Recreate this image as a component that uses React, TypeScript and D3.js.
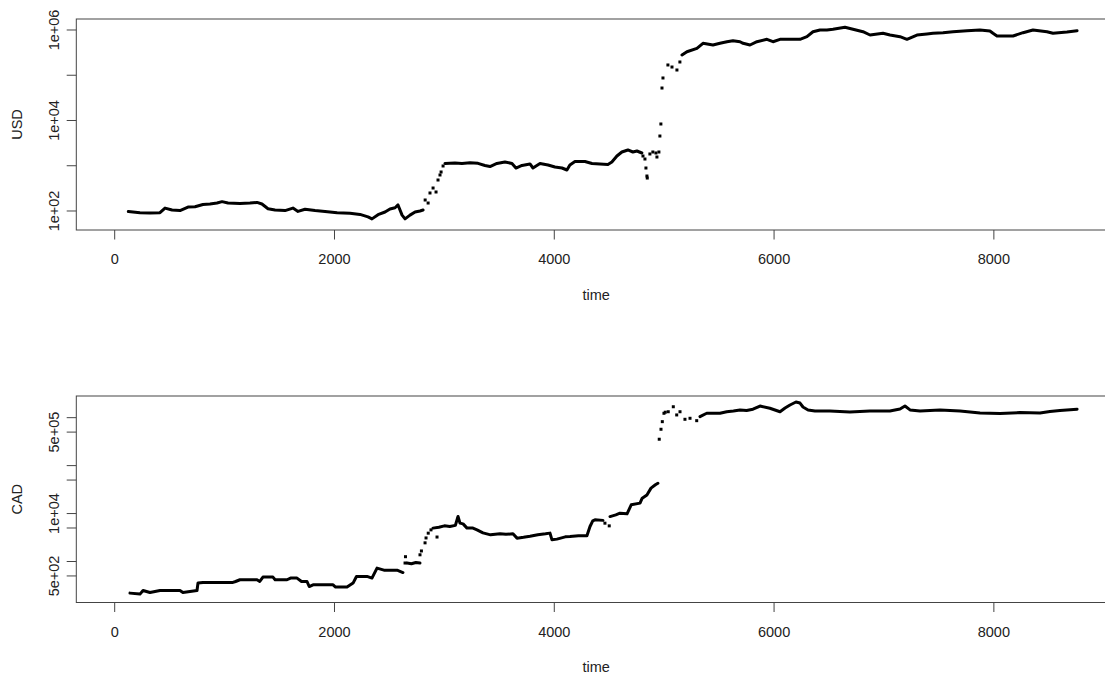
import React from "react";
import * as d3 from "d3";

type Pt = [number, number];

// Hourly exchange-rate series (time in hours, value on a log scale).
// Continuous stretches are drawn as dense point runs; the isolated hours
// around the jumps are drawn as single points.

// ---- USD ----
const usdRunA: Pt[] = [
  [124, 97], [230, 92], [321, 90], [412, 92], [458, 116], [522, 105], [594, 102],
  [667, 122], [731, 124], [803, 139], [867, 143], [931, 150], [977, 161], [1031, 150],
  [1140, 147], [1231, 150], [1295, 155], [1340, 143], [1395, 112], [1459, 105],
  [1550, 102], [1622, 116], [1668, 98], [1732, 109], [1823, 102], [1914, 98],
  [2024, 92], [2141, 89], [2232, 84], [2305, 74], [2341, 67], [2396, 83], [2460, 95],
  [2505, 111], [2551, 118], [2578, 136], [2615, 81], [2642, 67], [2687, 81],
  [2733, 95], [2778, 100], [2806, 105],
];
const usdRunB: Pt[] = [
  [3005, 1122], [3096, 1150], [3160, 1122], [3233, 1167], [3306, 1130], [3369, 1015],
  [3415, 962], [3478, 1122], [3551, 1211], [3615, 1122], [3651, 891], [3706, 1015],
  [3779, 1094], [3806, 891], [3870, 1122], [3943, 1040], [4006, 937], [4070, 891],
  [4115, 805], [4142, 1040], [4188, 1241], [4279, 1241], [4343, 1122], [4415, 1094],
  [4488, 1067], [4524, 1211], [4570, 1641], [4615, 2013], [4670, 2230], [4715, 2013],
  [4752, 2118], [4797, 1914],
];
const usdRunC: Pt[] = [
  [5162, 280000], [5207, 331000], [5298, 394000], [5353, 508000], [5444, 466000],
  [5508, 508000], [5571, 551000], [5626, 580000], [5690, 551000], [5718, 508000],
  [5781, 466000], [5844, 551000], [5935, 622000], [5990, 551000], [6054, 622000],
  [6236, 622000], [6299, 711000], [6354, 916000], [6418, 1000000], [6481, 1000000],
  [6536, 1036000], [6645, 1148000], [6718, 1036000], [6809, 916000], [6873, 775000],
  [6991, 845000], [7055, 775000], [7146, 711000], [7209, 622000], [7300, 775000],
  [7391, 816000], [7446, 845000], [7537, 872000], [7628, 916000], [7755, 966000],
  [7873, 1000000], [7964, 950000], [7992, 845000], [8028, 736000], [8174, 736000],
  [8265, 872000], [8356, 1000000], [8483, 916000], [8538, 845000], [8665, 904000],
  [8757, 966000],
];
const usdScatter: Pt[] = [
  [2825, 175], [2852, 150], [2869, 250], [2897, 322], [2924, 263], [2942, 484],
  [2960, 625], [2970, 728], [2988, 988],
  [4807, 1641], [4825, 1408], [4834, 891], [4843, 593], [4846, 535], [4870, 1820],
  [4897, 2013], [4925, 1914], [4934, 1560], [4952, 2013], [4961, 4539], [4970, 8370],
  [4980, 52200], [4989, 87000], [5034, 168600], [5071, 152000], [5116, 130600],
  [5143, 196400],
];

// ---- CAD ----
const cadRunA: Pt[] = [
  [139, 219], [230, 209], [258, 249], [321, 226], [412, 249], [594, 249], [621, 226],
  [749, 249], [758, 355], [803, 366], [1076, 366], [1100, 383], [1140, 416],
  [1295, 416], [1320, 383], [1349, 473], [1440, 473], [1460, 416], [1568, 416],
  [1600, 451], [1659, 451], [1700, 383], [1750, 383], [1770, 301], [1805, 327],
  [1987, 327], [2010, 293], [2114, 293], [2169, 355], [2200, 488], [2296, 488],
  [2341, 451], [2387, 728], [2450, 660], [2569, 660], [2623, 589],
];
const cadRunB: Pt[] = [[2660, 927], [2700, 900], [2740, 950], [2778, 927]];
const cadRunC: Pt[] = [
  [2896, 4970], [2950, 5200], [3000, 5540], [3050, 5370], [3100, 5670], [3124, 8700],
  [3142, 6310], [3170, 6090], [3206, 4970], [3260, 4970], [3297, 4570], [3351, 3960],
  [3420, 3600], [3506, 3780], [3560, 3690], [3624, 3780], [3661, 3070], [3720, 3190],
  [3779, 3350], [3850, 3600], [3920, 3780], [3961, 3910], [3979, 2830], [4024, 2930],
  [4100, 3270], [4143, 3310], [4220, 3430], [4297, 3430], [4325, 5370], [4350, 7050],
  [4370, 7400], [4443, 7210],
];
const cadRunD: Pt[] = [
  [4507, 8650], [4560, 9390], [4598, 10200], [4662, 9860], [4700, 15200],
  [4780, 16500], [4800, 20900], [4843, 24500], [4880, 33900], [4920, 39800],
  [4943, 42900],
];
const cadRunE: Pt[] = [
  [5326, 1050000], [5387, 1235000], [5450, 1235000], [5508, 1235000], [5569, 1330000],
  [5630, 1380000], [5690, 1450000], [5750, 1410000], [5808, 1500000], [5872, 1750000],
  [5962, 1570000], [6054, 1330000], [6100, 1590000], [6145, 1840000], [6199, 2120000],
  [6236, 2020000], [6263, 1670000], [6309, 1450000], [6372, 1380000], [6508, 1380000],
  [6690, 1320000], [6872, 1380000], [7054, 1380000], [7146, 1520000], [7191, 1750000],
  [7237, 1450000], [7328, 1380000], [7510, 1450000], [7692, 1380000], [7874, 1250000],
  [8056, 1220000], [8238, 1280000], [8420, 1250000], [8510, 1350000], [8601, 1410000],
  [8757, 1500000],
];
const cadScatter: Pt[] = [
  [2642, 930], [2646, 1260], [2778, 1380], [2791, 1660], [2824, 2450], [2833, 3100],
  [2853, 3900], [2878, 4570], [2933, 3240], [4461, 6300], [4500, 5540],
  [4955, 355000], [4971, 573000], [4983, 826000], [4998, 1235000], [5010, 1300000],
  [5037, 1330000], [5083, 1690000], [5114, 1140000], [5144, 1330000], [5189, 925000],
  [5235, 971000], [5296, 866000],
];

// Axis ticks
const xTicks = [0, 2000, 4000, 6000, 8000];
const usdTicks = [1e2, 1e3, 1e4, 1e5, 1e6];
const usdLabelled = [1e2, 1e4, 1e6];
const cadTicks = [5e2, 1e3, 5e3, 1e4, 5e4, 1e5, 5e5, 1e6];
const cadLabelled = [5e2, 1e4, 5e5];

// Axis limits
const timeDomain: [number, number] = [-349.4, 9110.4];
const usdDomain: [number, number] = [Math.pow(10, 1.58), Math.pow(10, 6.243)];
const cadDomain: [number, number] = [Math.pow(10, 2.145), Math.pow(10, 6.452)];

const FONT = "'Liberation Sans', Arial, Helvetica, sans-serif";
const FS = 14.5;
const AXIS = "#444";
const TEXT = "#222";

function sci(v: number): string {
  const e = Math.floor(Math.log10(v) + 1e-9);
  const m = Math.round(v / Math.pow(10, e));
  const sign = e >= 0 ? "+" : "-";
  return `${m}e${sign}${String(Math.abs(e)).padStart(2, "0")}`;
}

interface PanelProps {
  top: number;
  bottom: number;
  yLabel: string;
  yDomain: [number, number];
  ticks: number[];
  labelled: number[];
  runs: Pt[][];
  scatter: Pt[];
}

const LEFT = 76.3;
const RIGHT = 1115.9;

function Panel({ top, bottom, yLabel, yDomain, ticks, labelled, runs, scatter }: PanelProps) {
  const x = d3.scaleLinear().domain(timeDomain).range([LEFT, RIGHT]);
  const y = d3.scaleLog().domain(yDomain).range([bottom, top]);
  const line = d3
    .line<Pt>()
    .x((d) => x(d[0]))
    .y((d) => y(d[1]));
  const midY = (top + bottom) / 2;
  return (
    <g>
      {runs.map((r, i) => (
        <path
          key={i}
          d={line(r) ?? ""}
          fill="none"
          stroke="#000"
          strokeWidth={3}
          strokeLinejoin="round"
          strokeLinecap="round"
        />
      ))}
      {scatter.map((d, i) => (
        <rect
          key={i}
          x={x(d[0]) - 1.5}
          y={y(d[1]) - 1.5}
          width={3}
          height={3}
          fill="#000"
        />
      ))}
      <rect
        x={LEFT}
        y={top}
        width={RIGHT - LEFT}
        height={bottom - top}
        fill="none"
        stroke={AXIS}
        strokeWidth={1}
      />
      {xTicks.map((t) => (
        <g key={t}>
          <line x1={x(t)} x2={x(t)} y1={bottom} y2={bottom + 9.5} stroke={AXIS} />
          <text
            x={x(t)}
            y={bottom + 29}
            textAnchor="middle"
            dominantBaseline="central"
            fontFamily={FONT}
            fontSize={FS}
            fill={TEXT}
          >
            {t}
          </text>
        </g>
      ))}
      <text
        x={(LEFT + RIGHT) / 2}
        y={bottom + 64.5}
        textAnchor="middle"
        dominantBaseline="central"
        fontFamily={FONT}
        fontSize={FS}
        fill={TEXT}
      >
        time
      </text>
      {ticks.map((t) => (
        <line key={t} x1={LEFT - 9.6} x2={LEFT} y1={y(t)} y2={y(t)} stroke={AXIS} />
      ))}
      {labelled.map((t) => (
        <text
          key={t}
          transform={`translate(${54},${y(t)}) rotate(-90)`}
          textAnchor="middle"
          dominantBaseline="central"
          fontFamily={FONT}
          fontSize={FS}
          fill={TEXT}
        >
          {sci(t)}
        </text>
      ))}
      <text
        transform={`translate(${17},${midY}) rotate(-90)`}
        textAnchor="middle"
        dominantBaseline="central"
        fontFamily={FONT}
        fontSize={FS}
        fill={TEXT}
      >
        {yLabel}
      </text>
    </g>
  );
}

export default function App() {
  return (
    <div
      style={{
        position: "absolute",
        left: 0,
        top: 0,
        width: 1105,
        height: 675,
        overflow: "hidden",
        background: "#fff",
      }}
    >
      <svg width={1105} height={675} style={{ display: "block" }}>
        <rect width={1105} height={675} fill="#fff" />
        <Panel
          top={19}
          bottom={230}
          yLabel="USD"
          yDomain={usdDomain}
          ticks={usdTicks}
          labelled={usdLabelled}
          runs={[usdRunA, usdRunB, usdRunC]}
          scatter={usdScatter}
        />
        <Panel
          top={396}
          bottom={602.5}
          yLabel="CAD"
          yDomain={cadDomain}
          ticks={cadTicks}
          labelled={cadLabelled}
          runs={[cadRunA, cadRunB, cadRunC, cadRunD, cadRunE]}
          scatter={cadScatter}
        />
      </svg>
    </div>
  );
}
